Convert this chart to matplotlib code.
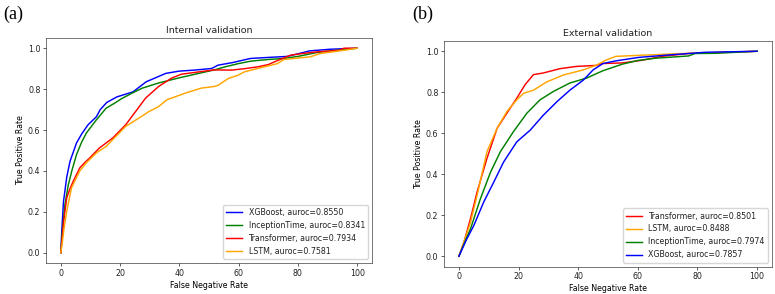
import matplotlib
matplotlib.use("Agg")
import matplotlib.pyplot as plt

# ---------------- data: internal validation ----------------
int_xgb_x = [0, 0.3, 0.9, 2, 3.1, 5.3, 7, 9.2, 12, 13.3, 15.5, 18.9, 24.4, 28.8, 33, 35.4, 39.9, 45, 50.9, 53, 58, 64, 70, 76.4, 84, 90.8, 100]
int_xgb_y = [0, 0.1, 0.25, 0.37, 0.447, 0.537, 0.58, 0.626, 0.665, 0.70, 0.735, 0.762, 0.787, 0.836, 0.862, 0.877, 0.888, 0.893, 0.901, 0.917, 0.93, 0.95, 0.955, 0.96, 0.987, 0.995, 1.0]

int_inc_x = [0, 0.5, 1.4, 2.5, 3.7, 5.3, 7, 8.6, 12, 15.3, 18, 20.8, 24, 27.5, 33, 39.6, 45, 51.8, 55.4, 60, 64.2, 70, 75.3, 80, 86.4, 93, 100]
int_inc_y = [0, 0.1, 0.236, 0.33, 0.40, 0.48, 0.54, 0.585, 0.65, 0.707, 0.73, 0.756, 0.78, 0.805, 0.83, 0.854, 0.872, 0.894, 0.909, 0.925, 0.937, 0.945, 0.95, 0.96, 0.979, 0.99, 1.0]

int_trf_x = [0, 0.5, 1, 2, 3, 4.2, 6.4, 8, 9.7, 13, 17.5, 21.9, 25.2, 28.6, 33, 37.4, 40.7, 47.4, 51.8, 57.6, 62, 66.4, 70, 72, 77.5, 82, 86.4, 94, 95.5, 100]
int_trf_y = [0, 0.08, 0.16, 0.268, 0.31, 0.35, 0.415, 0.44, 0.463, 0.512, 0.561, 0.626, 0.69, 0.756, 0.813, 0.854, 0.873, 0.886, 0.894, 0.893, 0.90, 0.909, 0.92, 0.933, 0.966, 0.975, 0.982, 0.99, 1.0, 1.0]

int_lstm_x = [0, 0.5, 1, 2, 3.6, 6.4, 8.6, 12, 15.3, 18.6, 21.9, 26.3, 29.7, 33, 35.8, 41.9, 47.4, 51.8, 53.2, 56.5, 59.8, 62, 68.7, 73.1, 75.3, 84.2, 87.5, 95.5, 100]
int_lstm_y = [0, 0.05, 0.11, 0.203, 0.317, 0.40, 0.44, 0.488, 0.52, 0.569, 0.618, 0.658, 0.69, 0.715, 0.748, 0.78, 0.805, 0.813, 0.82, 0.852, 0.868, 0.885, 0.909, 0.925, 0.945, 0.958, 0.974, 0.99, 1.0]

# ---------------- data: external validation ----------------
ext_trf_x = [0, 1.7, 4, 6.1, 9.4, 12.8, 16.1, 19.4, 22.2, 25, 28.3, 33.9, 39.4, 46.1, 48, 54.8, 61.4, 68, 77, 90, 100]
ext_trf_y = [0, 0.069, 0.19, 0.314, 0.477, 0.624, 0.698, 0.771, 0.837, 0.886, 0.894, 0.915, 0.926, 0.931, 0.94, 0.943, 0.956, 0.975, 0.989, 0.995, 1.0]

ext_lstm_x = [0, 1, 3.9, 6.1, 9.4, 12.8, 16.1, 19.4, 21.7, 25, 29.4, 35, 41.7, 46.1, 49.2, 52.6, 60.3, 77, 100]
ext_lstm_y = [0, 0.04, 0.166, 0.297, 0.51, 0.624, 0.706, 0.763, 0.795, 0.81, 0.85, 0.884, 0.909, 0.932, 0.956, 0.975, 0.98, 0.99, 1.0]

ext_inc_x = [0, 2, 3.9, 7.2, 10.6, 13.9, 18.3, 22.8, 27.2, 31.7, 37.2, 42.8, 48.3, 54.8, 60, 65.9, 77, 79.2, 86, 100]
ext_inc_y = [0, 0.07, 0.134, 0.28, 0.41, 0.51, 0.608, 0.698, 0.763, 0.804, 0.845, 0.869, 0.905, 0.937, 0.955, 0.966, 0.977, 0.989, 0.99, 1.0]

ext_xgb_x = [0, 2.5, 5, 8.3, 11.7, 15, 19.4, 23.9, 28.3, 32.8, 37.2, 41.7, 45, 48.3, 52.6, 60.3, 71.4, 82.6, 100]
ext_xgb_y = [0, 0.08, 0.15, 0.264, 0.362, 0.46, 0.558, 0.615, 0.688, 0.753, 0.81, 0.859, 0.909, 0.94, 0.953, 0.97, 0.983, 0.995, 1.0]

int_labels = ["XGBoost, auroc=0.8550", "InceptionTime, auroc=0.8341",
              "Transformer, auroc=0.7934", "LSTM, auroc=0.7581"]
ext_labels = ["Transformer, auroc=0.8501", "LSTM, auroc=0.8488",
              "InceptionTime, auroc=0.7974", "XGBoost, auroc=0.7857"]

S = 0.57
fs = 10 * S
plt.rcParams.update({
    "font.family": "DejaVu Sans",
    "font.size": fs,
    "axes.linewidth": 0.9 * S,
    "xtick.major.width": 0.9 * S,
    "ytick.major.width": 0.9 * S,
    "xtick.major.size": 3.5 * S,
    "ytick.major.size": 3.5 * S,
    "xtick.major.pad": 3.5 * S,
    "ytick.major.pad": 3.5 * S,
    "axes.labelpad": 4 * S,
    "axes.titlepad": 6 * S,
    "lines.linewidth": 1.05,
    "legend.fontsize": fs,
    "text.color": "#222222",
    "xtick.color": "#222222",
    "ytick.color": "#222222",
    "axes.edgecolor": "#444444",
})

W, H = 775, 294
fig = plt.figure(figsize=(W / 100, H / 100), dpi=100)

def ax_rect(l, r, t, b):
    return [l / W, 1 - b / H, (r - l) / W, (b - t) / H]

ax1 = fig.add_axes(ax_rect(46, 372, 38, 263))
ax2 = fig.add_axes(ax_rect(444, 772, 41, 266.5))

series_int = [(int_xgb_x, int_xgb_y, "blue"), (int_inc_x, int_inc_y, "green"),
              (int_trf_x, int_trf_y, "red"), (int_lstm_x, int_lstm_y, "orange")]
series_ext = [(ext_trf_x, ext_trf_y, "red"), (ext_lstm_x, ext_lstm_y, "orange"),
              (ext_inc_x, ext_inc_y, "green"), (ext_xgb_x, ext_xgb_y, "blue")]

for ax, series, labels, title in [(ax1, series_int, int_labels, "Internal validation"),
                                   (ax2, series_ext, ext_labels, "External validation")]:
    for (x, y, c), lab in zip(series, labels):
        ax.plot(x, y, color=c, label=lab)
    ax.set_title(title, fontsize=12 * S)
    ax.set_xlabel("False Negative Rate")
    ax.set_ylabel("True Positive Rate")
    ax.set_xticks([0, 20, 40, 60, 80, 100])
    ax.set_yticks([0.0, 0.2, 0.4, 0.6, 0.8, 1.0])
    ax.legend(loc="lower right")

fig.text(3 / W, 1 - 19 / H, "(a)", family="Liberation Serif", fontsize=13, color="black")
fig.text(412 / W, 1 - 19 / H, "(b)", family="Liberation Serif", fontsize=13, color="black")

fig.savefig("out.png", dpi=100)
